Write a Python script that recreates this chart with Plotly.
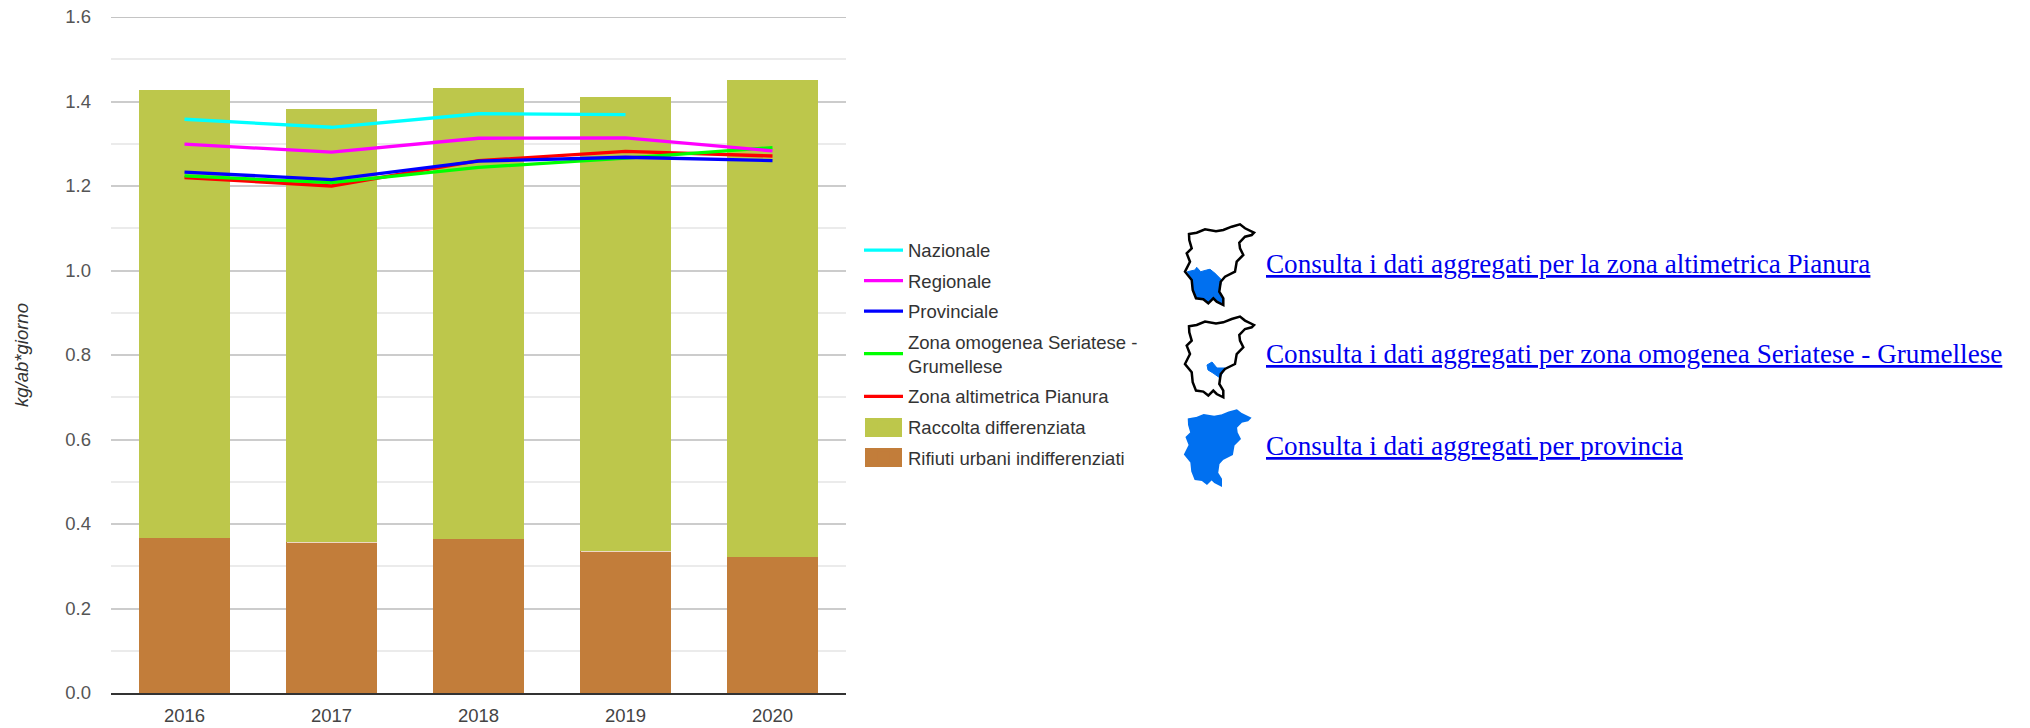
import plotly.graph_objects as go

anni = ["2016", "2017", "2018", "2019", "2020"]
indifferenziati = [0.368, 0.357, 0.365, 0.335, 0.323]
differenziata = [1.059, 1.025, 1.067, 1.075, 1.128]
nazionale = [1.358, 1.339, 1.371, 1.369, None]
regionale = [1.299, 1.280, 1.313, 1.314, 1.283]
provinciale = [1.233, 1.215, 1.259, 1.268, 1.260]
omogenea = [1.224, 1.208, 1.244, 1.266, 1.291]
pianura = [1.220, 1.200, 1.260, 1.282, 1.271]
y_ticks = [0, 0.2, 0.4, 0.6, 0.8, 1.0, 1.2, 1.4, 1.6]

link_testi = [
    "Consulta i dati aggregati per la zona altimetrica Pianura",
    "Consulta i dati aggregati per zona omogenea Seriatese - Grumellese",
    "Consulta i dati aggregati per provincia",
]
link_y_px = [263.5, 354, 446]

# icon outlines (page pixels)
provincia_px = [(1189,234),(1196.7,232.7),(1205,229.3),(1216,231.3),(1223.3,230),(1231.7,226.7),(1240,224.3),
                (1245,228.3),(1254,232.7),(1251.7,235),(1245,236.7),(1239.3,242.7),(1240,248.3),(1243.3,255),
                (1236.7,261.7),(1235,271.7),(1225,276.7),(1220.7,281.7),(1219.3,291.7),(1223.3,298.3),(1223.3,305),
                (1216.7,301.7),(1213.3,298.3),(1208.3,303.3),(1203.3,299.3),(1196,298.3),(1192.7,290),(1191.7,280),
                (1185,271.7),(1190,261.7),(1186.7,253.3),(1191.7,248.3),(1189.3,240)]
pianura_px = [(1187.3,271.7),(1195,270),(1196.7,267.3),(1200.7,271.7),(1206.7,270),(1210,269.3),(1215,273.3),
              (1221.7,280),(1219.3,291.7),(1223.3,298.3),(1223.3,305),(1216.7,301.7),(1213.3,298.3),(1208.3,303.3),
              (1203.3,299.3),(1196,298.3),(1192.7,290),(1191.7,280)]
seriatese_px = [(1207,365),(1212,362),(1217,368),(1225,368),(1220,378),(1213,373),(1208,370)]
swatch_y_px = [(418, 437, "#BDC74B"), (448, 467, "#C27D3A")]

PL, PR, PT, PB = 111, 846, 17, 693
W, H = 2030, 728

def px_x(x):
    return (x - PL) / (PR - PL)

def px_y(y):
    return (PB - y) / (PB - PT)

def paper_path(pts, dx=0, dy=0):
    return "M" + "L".join(f"{px_x(x + dx):.5f},{px_y(y + dy):.5f}" for x, y in pts) + "Z"

provincia_piccola = [(1185 + (x - 1185) * 0.94, 410 + (y - 224) * 0.93) for x, y in provincia_px]

fig = go.Figure()
fig.add_bar(x=anni, y=indifferenziati, name="Rifiuti urbani indifferenziati", marker_color="#C27D3A",
            marker_line_width=0, legendrank=7, legendgroup="g7",
            error_y=dict(type="constant", value=0, width=45, thickness=1, color="rgba(255,255,255,0.7)"))
fig.add_bar(x=anni, y=differenziata, name="Raccolta differenziata", marker_color="#BDC74B",
            marker_line_width=0, legendrank=6, legendgroup="g6")
righe = [("Zona altimetrica Pianura", pianura, "#FF0000", 5),
         ("Zona omogenea Seriatese -<br>Grumellese", omogenea, "#00FF00", 4),
         ("Provinciale", provinciale, "#0000FF", 3),
         ("Regionale", regionale, "#FF00FF", 2),
         ("Nazionale", nazionale, "#00FFFF", 1)]
for nome, val, col, r in righe:
    fig.add_scatter(x=anni, y=val, name=nome, mode="lines", line=dict(color=col, width=3.3),
                    legendrank=r, legendgroup=f"g{r}")

BLU = "#0070F0"
shapes = [
    dict(type="line", xref="paper", yref="y", x0=0, x1=1, y0=y_ticks[-1], y1=y_ticks[-1],
         line=dict(color="#C4C4C4", width=2), layer="below"),
    dict(type="path", xref="paper", yref="paper", path=paper_path(pianura_px),
         line=dict(color=BLU, width=1), fillcolor=BLU),
    dict(type="path", xref="paper", yref="paper", path=paper_path(provincia_px),
         line=dict(color="#000", width=2.5), fillcolor="rgba(0,0,0,0)"),
    dict(type="path", xref="paper", yref="paper", path=paper_path(seriatese_px),
         line=dict(color=BLU, width=1), fillcolor=BLU),
    dict(type="path", xref="paper", yref="paper", path=paper_path(provincia_px, 0, 92.3),
         line=dict(color="#000", width=2.5), fillcolor="rgba(0,0,0,0)"),
    dict(type="path", xref="paper", yref="paper", path=paper_path(provincia_piccola),
         line=dict(color=BLU, width=2), fillcolor=BLU),
]
for y0, y1, col in swatch_y_px:
    shapes.append(dict(type="rect", xref="paper", yref="paper", x0=px_x(865), x1=px_x(902), y0=px_y(y1), y1=px_y(y0),
                       line_width=0, fillcolor=col))

annotations = [
    dict(text=f'<a href="#"><span style="color:#0000EE">{t}</span></a>', xref="paper", yref="paper",
         x=px_x(1264), y=px_y(py), xanchor="left", yanchor="middle",
         showarrow=False, align="left",
         font=dict(family="Liberation Serif", size=27.15, color="#0000EE", lineposition="under"))
    for t, py in zip(link_testi, link_y_px)
]

fig.update_layout(
    width=W, height=H, autosize=False, barmode="stack", bargap=0.38,
    paper_bgcolor="white", plot_bgcolor="white",
    margin=dict(l=PL, r=W - PR, t=PT, b=H - PB, pad=0),
    font=dict(family="Liberation Sans", size=18.5, color="#444"),
    xaxis=dict(type="category", showgrid=False, showline=True, linecolor="#333", linewidth=2, automargin=False,
               ticks="", tickfont=dict(size=18.5, color="#444"), ticklabelstandoff=5),
    yaxis=dict(range=[0, 1.6], tickvals=y_ticks, tickformat=".1f", showgrid=True, gridcolor="#CCCCCC", gridwidth=2,
               zeroline=False, showline=False, ticks="", ticklabelstandoff=19, automargin=False,
               tickfont=dict(size=18.5, color="#555"),
               minor=dict(dtick=0.1, showgrid=True, gridcolor="#EBEBEB", gridwidth=2),
               title=dict(text="<i>kg/ab*giorno</i>", font=dict(size=18.5, color="#333"), standoff=31)),
    legend=dict(x=px_x(859), xanchor="left", y=px_y(231.5), yanchor="top",
                traceorder="grouped", tracegroupgap=3.5, itemwidth=39, bgcolor="rgba(0,0,0,0)",
                font=dict(size=18.5, color="#333"), itemclick=False, itemdoubleclick=False),
    shapes=shapes, annotations=annotations,
)
fig.write_html("out.html", post_script="document.body.style.margin='0';", config={"displayModeBar": False})
